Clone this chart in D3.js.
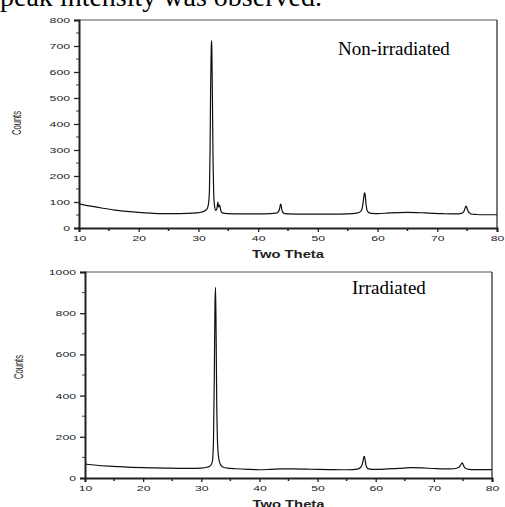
<!doctype html>
<html lang="en">
<head>
    <meta charset="utf-8"/>
    <title>XRD patterns</title>
    <style>
        body { margin: 0; background: #fff; }
        svg { display: block; }
    </style>
</head>
<body>
    <svg id="chart" width="505" height="507"></svg>
    <script src="https://d3js.org/d3.v7.min.js"></script>
    <script>
        // non-irradiated pattern (two theta, counts)
        const nonIrrTheta = [10, 12, 14, 16, 18, 20, 22, 24, 26, 28, 29, 30, 30.8, 31.2, 31.5, 31.7, 31.85, 31.95, 32.05, 32.15, 32.2, 32.25, 32.35, 32.45, 32.55, 32.7, 32.9, 33.1, 33.25, 33.4, 33.55, 33.65, 33.8, 34.0, 34.5, 35, 37, 40, 42, 43, 43.4, 43.6, 43.75, 43.85, 43.95, 44.1, 44.3, 44.6, 45, 48, 52, 55, 56.5, 57.2, 57.5, 57.7, 57.8, 57.9, 58.0, 58.1, 58.3, 58.6, 59, 60, 62, 65, 68, 71, 73, 74, 74.4, 74.6, 74.8, 74.9, 75.0, 75.2, 75.5, 75.9, 76.5, 78, 80];
        const nonIrrCounts = [93, 84, 76, 69, 64, 60, 57, 55, 55, 56, 57, 59, 63, 68, 76, 95, 150, 300, 560, 700, 720, 690, 480, 260, 140, 85, 68, 75, 100, 80, 88, 78, 63, 58, 56, 55, 54, 54, 55, 57, 63, 75, 92, 88, 72, 62, 57, 55, 54, 53, 53, 54, 57, 64, 85, 120, 135, 132, 110, 85, 65, 58, 56, 55, 58, 60, 58, 55, 54, 56, 62, 72, 84, 82, 75, 63, 56, 53, 52, 51, 51];

        // irradiated pattern
        const irrTheta = [10, 12, 14, 16, 18, 20, 22, 24, 26, 28, 30, 31, 31.6, 31.9, 32.1, 32.25, 32.35, 32.45, 32.55, 32.65, 32.8, 33, 33.3, 33.8, 34.5, 36, 38, 40, 42, 44, 46, 48, 50, 52, 54, 56, 57, 57.5, 57.8, 57.95, 58.05, 58.15, 58.3, 58.5, 58.8, 59.3, 60, 62, 64, 66, 68, 70, 72, 73.5, 74.3, 74.6, 74.8, 74.9, 75.0, 75.2, 75.5, 76, 77, 80];
        const irrCounts = [68, 62, 58, 55, 52, 50, 49, 48, 47, 47, 48, 52, 60, 80, 180, 520, 830, 925, 700, 380, 170, 95, 65, 52, 48, 45, 42, 40, 42, 44, 44, 43, 42, 41, 40, 41, 44, 55, 80, 102, 105, 92, 65, 50, 44, 42, 42, 44, 47, 50, 49, 46, 44, 45, 52, 63, 72, 73, 68, 55, 46, 42, 41, 41];

        const thetaTicks = [10, 20, 30, 40, 50, 60, 70, 80];
        const topCountTicks = [0, 100, 200, 300, 400, 500, 600, 700, 800];
        const bottomCountTicks = [0, 200, 400, 600, 800, 1000];

        const svg = d3.select("#chart");

        // text cut off at the top (from the surrounding paper)
        svg.append("text")
            .attr("x", 0)
            .attr("y", 6)
            .attr("font-family", "Liberation Serif, serif")
            .attr("font-size", 28)
            .attr("fill", "#000")
            .text("peak intensity was observed.");

        function drawPanel(cfg) {
            const x = d3.scaleLinear().domain([10, 80]).range([cfg.left, cfg.right]);
            const y = d3.scaleLinear().domain([0, cfg.ymax]).range([cfg.bottom, cfg.top]);
            const g = svg.append("g");

            // frame: thin top and right lines
            g.append("line").attr("x1", cfg.left).attr("x2", cfg.right)
                .attr("y1", cfg.top).attr("y2", cfg.top)
                .attr("stroke", "#555").attr("stroke-width", 1);
            g.append("line").attr("x1", cfg.right).attr("x2", cfg.right)
                .attr("y1", cfg.top).attr("y2", cfg.bottom)
                .attr("stroke", "#222").attr("stroke-width", 1.2);

            // minor ticks
            const xMinor = d3.range(15, 80, 10);
            g.append("g").selectAll("line").data(xMinor).join("line")
                .attr("x1", d => x(d)).attr("x2", d => x(d))
                .attr("y1", cfg.bottom).attr("y2", cfg.bottom + 3)
                .attr("stroke", "#222").attr("stroke-width", 1.5);
            const yMinor = d3.range(cfg.ystep / 2, cfg.ymax, cfg.ystep);
            g.append("g").selectAll("line").data(yMinor).join("line")
                .attr("x1", cfg.left - 3).attr("x2", cfg.left)
                .attr("y1", d => y(d)).attr("y2", d => y(d))
                .attr("stroke", "#444").attr("stroke-width", 1);

            const xAxis = g.append("g")
                .attr("transform", `translate(0,${cfg.bottom})`)
                .call(d3.axisBottom(x).tickValues(thetaTicks).tickSize(4).tickPadding(3).tickFormat(d3.format("d")));
            const yAxis = g.append("g")
                .attr("transform", `translate(${cfg.left},0)`)
                .call(d3.axisLeft(y).tickValues(cfg.yticks).tickSize(5).tickPadding(4).tickFormat(d3.format("d")));

            [xAxis, yAxis].forEach(a => {
                a.select(".domain").attr("stroke", "#222").attr("stroke-width", 2);
                a.selectAll(".tick line").attr("stroke", "#222").attr("stroke-width", 1.3);
                a.selectAll("text")
                    .attr("font-family", "Liberation Sans, Arial, sans-serif")
                    .attr("font-size", 8)
                    .attr("fill", "#222")
                    .attr("textLength", d => String(d).length * 6.8)
                    .attr("lengthAdjust", "spacingAndGlyphs");
            });

            // axis titles
            g.append("text")
                .attr("x", (cfg.left + cfg.right) / 2)
                .attr("y", cfg.bottom + 30)
                .attr("text-anchor", "middle")
                .attr("font-family", "Liberation Sans, Arial, sans-serif")
                .attr("font-weight", "bold")
                .attr("font-size", 10)
                .attr("fill", "#222")
                .attr("textLength", 72)
                .attr("lengthAdjust", "spacingAndGlyphs")
                .text("Two Theta");
            g.append("text")
                .attr("transform", `translate(${cfg.ylabelX},${cfg.ylabelY}) rotate(-90)`)
                .attr("text-anchor", "middle")
                .attr("font-family", "Liberation Sans, Arial, sans-serif")
                .attr("font-size", 13)
                .attr("fill", "#222")
                .attr("textLength", 24)
                .attr("lengthAdjust", "spacingAndGlyphs")
                .text("Counts");

            // pattern
            const pts = cfg.theta.map((t, i) => [t, cfg.counts[i]]);
            const line = d3.line().x(d => x(d[0])).y(d => y(d[1])).curve(d3.curveMonotoneX);
            g.append("path")
                .datum(pts)
                .attr("d", line)
                .attr("fill", "none")
                .attr("stroke", "#111")
                .attr("stroke-width", 1.2)
                .attr("stroke-linejoin", "round");

            // panel label
            g.append("text")
                .attr("x", cfg.labelX)
                .attr("y", cfg.labelY)
                .attr("font-family", "Liberation Serif, serif")
                .attr("font-size", 19)
                .attr("fill", "#000")
                .text(cfg.label);
        }

        drawPanel({
            left: 79, right: 497, top: 20, bottom: 228,
            ymax: 800, ystep: 100, yticks: topCountTicks,
            theta: nonIrrTheta, counts: nonIrrCounts,
            ylabelX: 21, ylabelY: 123,
            label: "Non-irradiated", labelX: 338, labelY: 55
        });

        drawPanel({
            left: 85, right: 492, top: 272, bottom: 478,
            ymax: 1000, ystep: 200, yticks: bottomCountTicks,
            theta: irrTheta, counts: irrCounts,
            ylabelX: 23, ylabelY: 367,
            label: "Irradiated", labelX: 352, labelY: 294
        });
    </script>
</body>
</html>
